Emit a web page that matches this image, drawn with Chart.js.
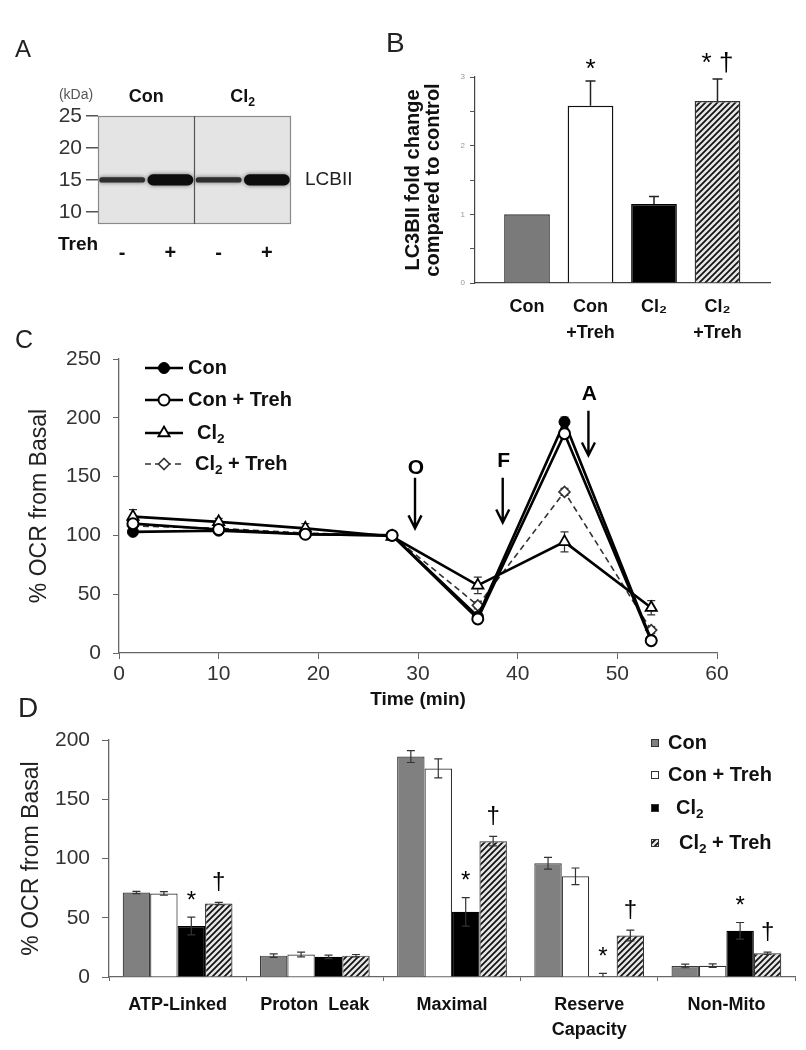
<!DOCTYPE html>
<html><head><meta charset="utf-8">
<script src="https://cdn.jsdelivr.net/npm/chart.js@4.4.1/dist/chart.umd.min.js"></script>
<style>
body{margin:0;background:#fff;}
#wrap{position:relative;width:806px;height:1050px;overflow:hidden;background:#fff;font-family:"Liberation Sans",Arial,sans-serif;}
canvas{position:absolute;}
.plbl{position:absolute;color:#222;line-height:1;font-weight:normal;}
</style></head><body>
<div id="wrap">
<canvas id="cA" width="380" height="250" style="left:0;top:20px"></canvas>
<canvas id="cB" width="426" height="320" style="left:380px;top:20px"></canvas>
<canvas id="cC" width="806" height="385" style="left:0;top:330px"></canvas>
<canvas id="cD" width="806" height="335" style="left:0;top:715px"></canvas>
<div class="plbl" style="left:15px;top:37px;font-size:24px">A</div>
<div class="plbl" style="left:386px;top:29px;font-size:28px">B</div>
<div class="plbl" style="left:15px;top:327px;font-size:25px">C</div>
<div class="plbl" style="left:18px;top:694px;font-size:28px">D</div>
</div>
<script>
// ---------- Panel A: western blot ----------
const blotLanes = ['-', '+', '-', '+'];          // Treh
const blotGroups = ['Con', 'Cl₂'];
const kdaTicks = [10, 15, 20, 25];
const bandKda = [15, 15, 15, 15];
const bandWidthKda = [0.8, 1.75, 0.8, 1.75];

// ---------- Panel B ----------
const bCats = [['Con'], ['Con', '+Treh'], ['Cl₂'], ['Cl₂', '+Treh']];
const bVals = [1.0, 2.58, 1.15, 2.65];
const bErr = [0, 0.36, 0.11, 0.32];
const bSig = ['', '*', '', '* †'];

// ---------- Panel C ----------
const cSeries = ['Con', 'Con + Treh', 'Cl₂', 'Cl₂ + Treh'];
const cTime = [1.4, 10, 18.7, 27.4, 36, 44.7, 53.4];
const cCon = [103, 104, 101, 100, 31, 196.5, 11];
const cConErr = [2, 2, 2, 1, 3, 4, 2];
const cConTreh = [110, 105, 101, 100, 29, 186.5, 10.5];
const cConTrehErr = [3, 2, 2, 1, 3, 4, 2];
const cCl2 = [116, 111.5, 106, 99, 57.5, 94.5, 38.5];
const cCl2Err = [6, 3, 4, 2, 7, 8.5, 6];
const cCl2Treh = [108, 106, 102, 100, 40.5, 137, 19.5];
const cCl2TrehErr = [4, 2, 2, 1, 3, 3, 3];
const cInjections = ['O', 'F', 'A'];

// ---------- Panel D ----------
const dCats = ['ATP-Linked', 'Proton  Leak', 'Maximal', ['Reserve', 'Capacity'], 'Non-Mito'];
const dSeries = ['Con', 'Con + Treh', 'Cl₂', 'Cl₂ + Treh'];
const dCon = [71.3, 18, 186, 96, 9.3];
const dConErr = [1, 1.5, 5, 5, 1.5];
const dConTreh = [70.5, 19, 176, 85, 9.5];
const dConTrehErr = [1.5, 2, 8, 7, 1.5];
const dCl2 = [43, 17, 55, 0, 39];
const dCl2Err = [7.5, 1.5, 12, 3, 7];
const dCl2Treh = [62, 18, 114.6, 35, 20];
const dCl2TrehErr = [1, 1, 4, 4.5, 1];
const dSigCl2 = ['*', '', '*', '*', '*'];
const dSigCl2Treh = ['†', '', '†', '†', '†'];

// ---------- common ----------
const FONT = '"Liberation Sans", Arial, sans-serif';
Chart.defaults.font.family = FONT;
Chart.defaults.color = '#333';
Chart.defaults.animation = false;
Chart.defaults.responsive = false;
Chart.defaults.maintainAspectRatio = false;
Chart.defaults.devicePixelRatio = 1;
Chart.defaults.plugins.legend.display = false;
Chart.defaults.plugins.tooltip.enabled = false;

function makeHatch() {
  const c = document.createElement('canvas'); c.width = 6; c.height = 6;
  const g = c.getContext('2d');
  g.fillStyle = '#e6e6e6'; g.fillRect(0, 0, 6, 6);
  g.strokeStyle = '#111'; g.lineWidth = 1.7;
  g.beginPath();
  g.moveTo(0, 6); g.lineTo(6, 0);
  g.moveTo(-3, 3); g.lineTo(3, -3);
  g.moveTo(3, 9); g.lineTo(9, 3);
  g.stroke();
  return g.createPattern(c, 'repeat');
}
const HATCH = makeHatch();

function richText(ctx, str, x, y, size, bold, align, color) {
  const f = (s) => `${bold ? 'bold ' : ''}${s}px ${FONT}`;
  const parts = str.split('₂');
  const segs = [];
  parts.forEach((p, i) => {
    if (p) segs.push({ t: p, sub: false });
    if (i < parts.length - 1) segs.push({ t: '2', sub: true });
  });
  let total = 0;
  segs.forEach(s => { ctx.font = f(s.sub ? size * 0.68 : size); s.w = ctx.measureText(s.t).width; total += s.w; });
  let cx = align === 'center' ? x - total / 2 : (align === 'right' ? x - total : x);
  ctx.save();
  ctx.fillStyle = color || '#111';
  ctx.textAlign = 'left';
  ctx.textBaseline = 'middle';
  segs.forEach(s => {
    ctx.font = f(s.sub ? size * 0.68 : size);
    ctx.fillText(s.t, cx, s.sub ? y + size * 0.32 : y);
    cx += s.w;
  });
  ctx.restore();
}

function drawCentered(ctx, t, x, cy, size, weight) {
  ctx.save();
  ctx.font = `${weight || 'normal'} ${size}px ${FONT}`;
  ctx.fillStyle = '#000';
  ctx.textAlign = 'center';
  ctx.textBaseline = 'alphabetic';
  const m = ctx.measureText(t);
  const base = cy + (m.actualBoundingBoxAscent - m.actualBoundingBoxDescent) / 2;
  ctx.fillText(t, x, base);
  ctx.restore();
}

function valOf(raw) { return (raw && typeof raw === 'object') ? raw.y : raw; }

function drawErrors(chart, opts) {
  const ctx = chart.ctx, ys = chart.scales.y;
  chart.data.datasets.forEach((ds, di) => {
    if (!ds.errors) return;
    const meta = chart.getDatasetMeta(di);
    meta.data.forEach((el, i) => {
      const e = ds.errors[i]; if (!e) return;
      const v = valOf(ds.data[i]);
      const yt = ys.getPixelForValue(v + e);
      const yb = ys.getPixelForValue(opts.upOnly ? v : Math.max(v - e, ys.min));
      const c = opts.cap || 4;
      ctx.save();
      ctx.strokeStyle = opts.color || '#222';
      ctx.lineWidth = opts.width || 1.2;
      ctx.beginPath();
      ctx.moveTo(el.x, yt); ctx.lineTo(el.x, yb);
      ctx.moveTo(el.x - c, yt); ctx.lineTo(el.x + c, yt);
      if (!opts.upOnly && v - e >= ys.min) { ctx.moveTo(el.x - c, yb); ctx.lineTo(el.x + c, yb); }
      ctx.stroke();
      ctx.restore();
    });
  });
}
const errPlugin = {
  id: 'errbars',
  beforeDatasetsDraw(chart, args, opts) { if (opts.before) drawErrors(chart, opts); },
  afterDatasetsDraw(chart, args, opts) { if (!opts.before) drawErrors(chart, opts); }
};
const sigPlugin = {
  id: 'sig',
  afterDatasetsDraw(chart, args, opts) {
    const ctx = chart.ctx, ys = chart.scales.y;
    chart.data.datasets.forEach((ds, di) => {
      if (!ds.sig) return;
      const meta = chart.getDatasetMeta(di);
      meta.data.forEach((el, i) => {
        const s = ds.sig[i]; if (!s) return;
        const v = valOf(ds.data[i]);
        const top = ys.getPixelForValue(v + (ds.errors ? ds.errors[i] : 0));
        const gap = s.indexOf('†') >= 0 && s.indexOf('*') < 0 ? opts.gapDagger : opts.gap;
        drawCentered(ctx, s, el.x + (opts.dx || 0), top - gap, opts.size);
      });
    });
  }
};

// ================= Panel A =================
const blotPlugin = {
  id: 'blot',
  beforeDatasetsDraw(chart) {
    const { ctx, chartArea: a } = chart;
    ctx.save();
    ctx.fillStyle = '#e4e4e4';
    ctx.fillRect(a.left, a.top, a.right - a.left, a.bottom - a.top);
    ctx.restore();
    ctx.save();
    ctx.shadowColor = 'rgba(0,0,0,0.55)';
    ctx.shadowBlur = 4;
  },
  afterDatasetsDraw(chart) {
    const { ctx, chartArea: a } = chart;
    ctx.restore();
    const xs = chart.scales.x, ys = chart.scales.y;
    ctx.save();
    ctx.strokeStyle = '#8a8a8a'; ctx.lineWidth = 1.2;
    ctx.strokeRect(a.left + 0.5, a.top + 0.5, a.right - a.left - 1, a.bottom - a.top - 1);
    const mid = (xs.getPixelForValue(1) + xs.getPixelForValue(2)) / 2;
    ctx.strokeStyle = '#555';
    ctx.beginPath(); ctx.moveTo(mid, a.top); ctx.lineTo(mid, a.bottom); ctx.stroke();
    ctx.restore();
    // group headers
    blotGroups.forEach((g, gi) => {
      const x = (xs.getPixelForValue(gi * 2) + xs.getPixelForValue(gi * 2 + 1)) / 2;
      richText(ctx, g, x, a.top - 19, 18, true, 'center', '#111');
    });
    ctx.save();
    ctx.font = `14px ${FONT}`; ctx.fillStyle = '#555'; ctx.textAlign = 'center'; ctx.textBaseline = 'middle';
    ctx.fillText('(kDa)', a.left - 22, a.top - 21);
    ctx.font = `19px ${FONT}`; ctx.fillStyle = '#222'; ctx.textAlign = 'left';
    ctx.fillText('LCBII', a.right + 14, ys.getPixelForValue(15));
    ctx.font = `bold 19px ${FONT}`; ctx.fillStyle = '#111';
    ctx.fillText('Treh', a.left - 40, a.bottom + 21);
    ctx.restore();
  }
};
new Chart(document.getElementById('cA'), {
  type: 'bar',
  data: {
    labels: blotLanes,
    datasets: [{
      data: blotLanes.map((_, i) => [bandKda[i] - bandWidthKda[i] / 2, bandKda[i] + bandWidthKda[i] / 2]),
      backgroundColor: bandWidthKda.map(w => w > 1 ? '#0d0d0d' : '#2e2e2e'),
      borderWidth: 0,
      borderRadius: 6,
      borderSkipped: false,
      barPercentage: 1,
      categoryPercentage: 0.95
    }]
  },
  options: {
    layout: { padding: { left: 0, right: 89, top: 96, bottom: 10 } },
    scales: {
      x: {
        grid: { display: false }, border: { display: false },
        ticks: { font: { size: 20, weight: 'bold' }, color: '#111', padding: 9, maxRotation: 0 },
        afterFit: s => { s.height = 36; }
      },
      y: {
        min: 8.1, max: 25,
        afterBuildTicks: s => { s.ticks = kdaTicks.map(v => ({ value: v })); },
        grid: { drawOnChartArea: false, tickLength: 12, color: '#555', lineWidth: 1.5 },
        border: { display: false },
        ticks: { font: { size: 21 }, color: '#333', padding: 4 },
        afterFit: s => { s.width = 98; }
      }
    }
  },
  plugins: [blotPlugin]
});

// ================= Panel B =================
new Chart(document.getElementById('cB'), {
  type: 'bar',
  data: {
    datasets: [{
      data: bVals.map((v, i) => ({ x: i + 1, y: v })),
      errors: bErr,
      sig: bSig,
      backgroundColor: ['#7a7a7a', '#ffffff', '#000000', HATCH],
      borderColor: ['#333', '#111', '#000', '#333'],
      borderWidth: 1.5
    }]
  },
  options: {
    layout: { padding: { left: 0, right: 36, top: 57, bottom: 0 } },
    scales: {
      x: {
        type: 'linear', min: 0.181, max: 4.827, offset: false,
        afterBuildTicks: s => { s.ticks = bCats.map((_, i) => ({ value: i + 1 })); },
        grid: { display: false },
        border: { display: true, color: '#444', width: 1.2 },
        ticks: {
          callback: v => bCats[v - 1],
          font: { size: 18, weight: 'bold', lineHeight: 1.45 }, color: '#111', padding: 3, maxRotation: 0, autoSkip: false
        },
        afterFit: s => { s.height = 57; }
      },
      y: {
        min: 0, max: 3,
        ticks: { stepSize: 0.5, callback: v => Number.isInteger(v) ? v : '', font: { size: 8 }, color: '#999', padding: 5 },
        grid: { drawOnChartArea: false, tickLength: 5, color: '#555' },
        border: { display: true, color: '#444', width: 1.2 },
        title: {
          display: true, text: ['LC3BII fold change', 'compared to control'],
          font: { size: 20, weight: 'bold', lineHeight: 1.0 }, color: '#111', padding: { top: 23, bottom: 0 }
        },
        afterFit: s => { s.width = 95; }
      }
    },
    plugins: {
      errbars: { upOnly: true, cap: 5, width: 1.5, color: '#222' },
      sig: { gap: 17, gapDagger: 17, size: 26 }
    }
  },
  plugins: [errPlugin, sigPlugin]
});

// ================= Panel C =================
const cStyles = [
  { data: cConTreh, err: cConTrehErr, ps: 'circle', r: 5.5, bg: '#fff', bc: '#000', pbw: 2, lw: 2.6, dash: [] },
  { data: cCon, err: cConErr, ps: 'circle', r: 5.5, bg: '#000', bc: '#000', pbw: 1, lw: 2.6, dash: [] },
  { data: cCl2, err: cCl2Err, ps: 'triangle', r: 6.5, bg: '#fff', bc: '#000', pbw: 1.8, lw: 2.6, dash: [] },
  { data: cCl2Treh, err: cCl2TrehErr, ps: 'rectRot', r: 5.5, bg: '#fff', bc: '#333', pbw: 1.6, lw: 1.6, dash: [6, 4] }
];
const cNames = [cSeries[1], cSeries[0], cSeries[2], cSeries[3]];
const injAnn = [
  { t: 29.7, label: 158, top: 149, tip: 106 },
  { t: 38.5, label: 164, top: 149, tip: 111 },
  { t: 47.1, label: 221, top: 206, tip: 168 }
];
const cExtras = {
  id: 'cExtras',
  afterDraw(chart) {
    const { ctx } = chart;
    const xs = chart.scales.x, ys = chart.scales.y;
    // injection arrows
    cInjections.forEach((lab, i) => {
      const a = injAnn[i];
      const x = xs.getPixelForValue(a.t);
      drawCentered(ctx, lab, x + 1, ys.getPixelForValue(a.label), 21, 'bold');
      const y0 = ys.getPixelForValue(a.top), y1 = ys.getPixelForValue(a.tip);
      ctx.save();
      ctx.strokeStyle = '#000'; ctx.lineWidth = 2.4;
      ctx.beginPath(); ctx.moveTo(x, y0); ctx.lineTo(x, y1 - 1);
      ctx.moveTo(x - 6.5, y1 - 13); ctx.lineTo(x, y1); ctx.lineTo(x + 6.5, y1 - 13);
      ctx.stroke(); ctx.restore();
    });
    // legend
    const a = chart.chartArea;
    const order = [1, 0, 2, 3];
    const ly = [9, 41, 74, 105];
    const tx = [188, 188, 197, 195];
    order.forEach((si, k) => {
      const st = cStyles[si];
      const y = a.top + ly[k];
      ctx.save();
      ctx.strokeStyle = st.bc; ctx.lineWidth = st.lw; ctx.setLineDash(st.dash);
      ctx.beginPath(); ctx.moveTo(145, y); ctx.lineTo(183, y); ctx.stroke();
      ctx.setLineDash([]);
      ctx.restore();
      ctx.save();
      ctx.lineWidth = st.pbw; ctx.strokeStyle = st.bc; ctx.fillStyle = st.bg;
      Chart.helpers.drawPoint(ctx, { pointStyle: st.ps, radius: st.r, borderWidth: st.pbw, rotation: 0 }, 164, y);
      ctx.restore();
      richText(ctx, cNames[si], tx[k], y, 20, true, 'left', '#111');
    });
  }
};
new Chart(document.getElementById('cC'), {
  type: 'scatter',
  data: {
    datasets: cStyles.map((st, i) => ({
      label: cNames[i],
      data: cTime.map((t, j) => ({ x: t, y: st.data[j] })),
      errors: st.err,
      showLine: true,
      borderColor: st.bc,
      borderWidth: st.lw,
      borderDash: st.dash,
      pointStyle: st.ps,
      pointRadius: st.r,
      pointBackgroundColor: st.bg,
      pointBorderColor: st.bc,
      pointBorderWidth: st.pbw,
      tension: 0
    }))
  },
  options: {
    layout: { padding: { left: 0, right: 89, top: 29, bottom: 0 } },
    scales: {
      x: {
        type: 'linear', min: 0, max: 60,
        ticks: { stepSize: 10, font: { size: 21 }, color: '#333', padding: 3 },
        grid: { drawOnChartArea: false, tickLength: 6, color: '#666' },
        border: { display: true, color: '#666', width: 1.3 },
        title: { display: true, text: 'Time (min)', font: { size: 19, weight: 'bold' }, color: '#111', padding: { top: 4, bottom: 4 } },
        afterFit: s => { s.height = 62; }
      },
      y: {
        min: 0, max: 250,
        ticks: { stepSize: 50, font: { size: 21 }, color: '#333', padding: 12 },
        grid: { drawOnChartArea: false, tickLength: 6, color: '#666' },
        border: { display: true, color: '#666', width: 1.3 },
        title: { display: true, text: '% OCR from Basal', font: { size: 23 }, color: '#222', padding: { top: 26, bottom: 0 } },
        afterFit: s => { s.width = 119; }
      }
    },
    plugins: { errbars: { before: true, cap: 4, width: 1.2, color: '#333' } }
  },
  plugins: [errPlugin, cExtras]
});

// ================= Panel D =================
const dFills = ['#808080', '#ffffff', '#000000', HATCH];
const dBorders = ['#3a3a3a', '#333', '#000', '#333'];
const dData = [dCon, dConTreh, dCl2, dCl2Treh];
const dErrs = [dConErr, dConTrehErr, dCl2Err, dCl2TrehErr];
const dSigs = [null, null, dSigCl2, dSigCl2Treh];
const dLegend = {
  id: 'dLegend',
  afterDraw(chart) {
    const { ctx } = chart;
    const a = chart.chartArea;
    const ly = [3, 35, 68, 103];
    const tx = [668, 668, 676, 679];
    dSeries.forEach((s, i) => {
      const y = a.top + ly[i];
      ctx.save();
      ctx.fillStyle = dFills[i];
      ctx.fillRect(651.5, y - 3.5, 7, 7);
      ctx.strokeStyle = '#333'; ctx.lineWidth = 1;
      ctx.strokeRect(651.5, y - 3.5, 7, 7);
      ctx.restore();
      richText(ctx, s, tx[i], y, 20, true, 'left', '#111');
    });
  }
};
new Chart(document.getElementById('cD'), {
  type: 'bar',
  data: {
    labels: dCats,
    datasets: dSeries.map((s, i) => ({
      label: s,
      data: dData[i],
      errors: dErrs[i],
      sig: dSigs[i],
      backgroundColor: dFills[i],
      borderColor: dBorders[i],
      borderWidth: 1.2,
      barPercentage: 1.0,
      categoryPercentage: 0.8
    }))
  },
  options: {
    layout: { padding: { left: 0, right: 11, top: 25, bottom: 0 } },
    scales: {
      x: {
        grid: { drawOnChartArea: false, tickLength: 4, color: '#666', offset: true },
        border: { display: true, color: '#666', width: 1.3 },
        ticks: { font: { size: 18, weight: 'bold', lineHeight: 1.4 }, color: '#111', padding: 11, maxRotation: 0, autoSkip: false },
        afterFit: s => { s.height = 73; }
      },
      y: {
        min: 0, max: 200,
        ticks: { stepSize: 50, font: { size: 21 }, color: '#333', padding: 12 },
        grid: { drawOnChartArea: false, tickLength: 7, color: '#666' },
        border: { display: true, color: '#666', width: 1.3 },
        title: { display: true, text: '% OCR from Basal', font: { size: 23 }, color: '#222', padding: { top: 18, bottom: 0 } },
        afterFit: s => { s.width = 109; }
      }
    },
    plugins: {
      errbars: { cap: 4, width: 1.2, color: '#333' },
      sig: { gap: 22, gapDagger: 21, size: 24 }
    }
  },
  plugins: [errPlugin, sigPlugin, dLegend]
});
</script>
</body></html>
